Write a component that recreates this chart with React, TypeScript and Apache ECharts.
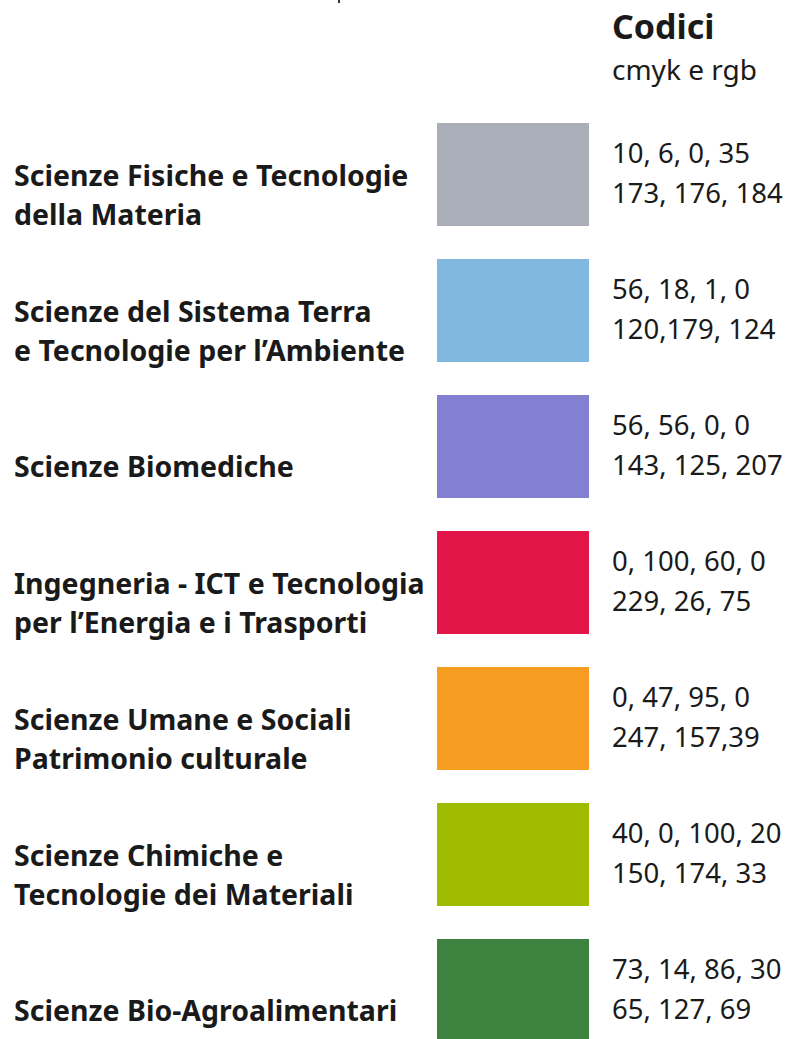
import React, { useEffect, useRef } from "react";
import * as echarts from "echarts";

const categories: string[] = [
  "Scienze Fisiche e Tecnologie\ndella Materia",
  "Scienze del Sistema Terra\ne Tecnologie per l’Ambiente",
  "Scienze Biomediche",
  "Ingegneria - ICT e Tecnologia\nper l’Energia e i Trasporti",
  "Scienze Umane e Sociali\nPatrimonio culturale",
  "Scienze Chimiche e\nTecnologie dei Materiali",
  "Scienze Bio-Agroalimentari",
];

const cmykCodes: string[] = [
  "10, 6, 0, 35",
  "56, 18, 1, 0",
  "56, 56, 0, 0",
  "0, 100, 60, 0",
  "0, 47, 95, 0",
  "40, 0, 100, 20",
  "73, 14, 86, 30",
];

const rgbCodes: string[] = [
  "173, 176, 184",
  "120,179, 124",
  "143, 125, 207",
  "229, 26, 75",
  "247, 157,39",
  "150, 174, 33",
  "65, 127, 69",
];

const swatchColors: string[] = [
  "#AAAEB8",
  "#80B8DF",
  "#837FD1",
  "#E3164A",
  "#F79D21",
  "#A0BC00",
  "#3E8240",
];

const swatchValues: number[] = [1, 1, 1, 1, 1, 1, 1];

const headerTitle = "Codici";
const headerSub = "cmyk e rgb";

const FONT = "'Noto Sans', sans-serif";
const TEXT = "#1a1a1a";

export default function App() {
  const ref = useRef<HTMLDivElement>(null);

  useEffect(() => {
    document.body.style.margin = "0";
    if (!ref.current) return;
    const chart = echarts.init(ref.current, null, { renderer: "svg" });
    chart.setOption({
      animation: false,
      backgroundColor: "#ffffff",
      graphic: [
        {
          type: "text",
          x: 612,
          y: 25.5,
          style: {
            text: headerTitle,
            fontFamily: FONT,
            fontWeight: "bold",
            fontSize: 34,
            fill: TEXT,
            verticalAlign: "middle",
            align: "left",
          },
        },
        {
          type: "text",
          x: 612,
          y: 68.5,
          style: {
            text: headerSub,
            fontFamily: FONT,
            fontSize: 28,
            fill: TEXT,
            verticalAlign: "middle",
            align: "left",
          },
        },
        {
          type: "line",
          shape: { x1: 339, y1: 0, x2: 339, y2: 3 },
          style: { stroke: "#333", lineWidth: 2 },
        },
      ],
      grid: { left: 437, top: 106.5, width: 152, height: 952 },
      xAxis: { type: "value", min: 0, max: 1, show: false },
      yAxis: {
        type: "category",
        inverse: true,
        data: categories,
        axisLine: { show: false },
        axisTick: { show: false },
        splitLine: { show: false },
        axisLabel: {
          align: "left",
          margin: 423,
          fontFamily: FONT,
          fontWeight: "bold",
          fontSize: 28.5,
          lineHeight: 39,
          color: TEXT,
          formatter: (v: string) => "\n" + v,
        },
      },
      series: [
        {
          type: "bar",
          barWidth: 103,
          data: swatchValues.map((v, i) => ({
            value: v,
            itemStyle: { color: swatchColors[i] },
          })),
          label: {
            show: true,
            position: "right",
            distance: 23,
            offset: [0, -2.5],
            formatter: (p: any) =>
              cmykCodes[p.dataIndex] + "\n" + rgbCodes[p.dataIndex],
            fontFamily: FONT,
            fontSize: 27.5,
            lineHeight: 40,
            color: TEXT,
          },
        },
      ],
    });
    return () => chart.dispose();
  }, []);

  return (
    <div
      style={{
        position: "absolute",
        left: 0,
        top: 0,
        width: 787,
        height: 1039,
        overflow: "hidden",
      }}
    >
      <div ref={ref} style={{ width: 787, height: 1080 }} />
    </div>
  );
}
